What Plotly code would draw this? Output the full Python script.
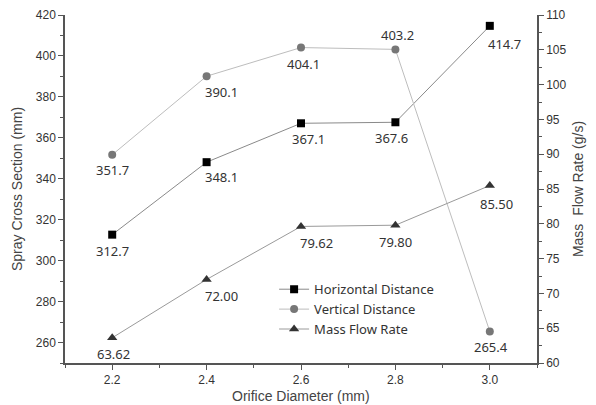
import plotly.graph_objects as go

diameter = [2.2, 2.4, 2.6, 2.8, 3.0]
horizontal = [312.7, 348.1, 367.1, 367.6, 414.7]
vertical = [351.7, 390.1, 404.1, 403.2, 265.4]
mass_flow = [63.62, 72.00, 79.62, 79.80, 85.50]
horizontal_labels = ["312.7", "348.1", "367.1", "367.6", "414.7"]
vertical_labels = ["351.7", "390.1", "404.1", "403.2", "265.4"]
mass_labels = ["63.62", "72.00", "79.62", "79.80", "85.50"]

# label offsets in pixels (styling only)
h_off = [(0, -16), (15, -15), (7, -16), (-4, -16), (15, -18)]
v_off = [(0, -15), (15, -16), (2, -16), (2, 14), (1, -16)]
m_off = [(1, -16), (15, -17), (15, -17), (0, -17), (7, -18)]

label_font = dict(family="Noto Sans, DejaVu Sans", size=13, color="#333")
title_font = dict(family="Liberation Sans, Arial", size=14, color="#444")

fig = go.Figure()
fig.add_trace(go.Scatter(
    x=diameter, y=horizontal, name="Horizontal Distance", mode="lines+markers",
    line=dict(color="#8a8a8a", width=1), marker=dict(symbol="square", size=8, color="#000"),
))
fig.add_trace(go.Scatter(
    x=diameter, y=vertical, name="Vertical Distance", mode="lines+markers",
    line=dict(color="#bdbdbd", width=1), marker=dict(symbol="circle", size=8, color="#777"),
))
fig.add_trace(go.Scatter(
    x=diameter, y=mass_flow, name="Mass Flow Rate", mode="lines+markers", yaxis="y2",
    line=dict(color="#9a9a9a", width=1), marker=dict(symbol="triangle-up", size=9, color="#333"),
))

annotations = []
for vals, labels, offs, yref in [(horizontal, horizontal_labels, h_off, "y"),
                                 (vertical, vertical_labels, v_off, "y"),
                                 (mass_flow, mass_labels, m_off, "y2")]:
    for xv, yv, lab, (dx, dy) in zip(diameter, vals, labels, offs):
        annotations.append(dict(x=xv, y=yv, xref="x", yref=yref, text=lab, showarrow=False,
                                xshift=dx, yshift=dy, font=label_font,
                                xanchor="center", yanchor="middle"))

# x-axis title, placed just above the bottom edge
annotations.append(dict(x=0.5, y=-0.094, xref="paper", yref="paper", text="Orifice Diameter (mm)",
                        showarrow=False, font=title_font, xanchor="center", yanchor="middle"))

axis_common = dict(
    showline=True, linecolor="#555", linewidth=1.5, ticks="outside", ticklen=5,
    tickcolor="#555", showgrid=False, zeroline=False, automargin=False,
    tickfont=dict(family="Liberation Sans, Arial", size=12, color="#333"),
)

fig.update_layout(
    width=596, height=405,
    margin=dict(l=65, r=59, t=15, b=42),
    plot_bgcolor="white", paper_bgcolor="white",
    showlegend=True,
    annotations=annotations,
    legend=dict(x=0.443, y=0.255, xanchor="left", yanchor="top", bgcolor="rgba(0,0,0,0)",
                font=dict(family="Noto Sans, DejaVu Sans", size=13, color="#333"),
                tracegroupgap=0),
    xaxis=dict(range=[2.1, 3.1], tickvals=diameter, ticktext=["2.2", "2.4", "2.6", "2.8", "3.0"],
               minor=dict(ticks="outside", ticklen=3, dtick=0.1, tick0=2.1, tickcolor="#555"),
               **axis_common),
    yaxis=dict(range=[250, 420], tick0=260, dtick=20,
               minor=dict(ticks="outside", ticklen=3, dtick=10, tick0=250, tickcolor="#555"),
               title=dict(text="Spray Cross Section (mm)", standoff=10, font=title_font),
               **axis_common),
    yaxis2=dict(range=[60, 110], tick0=60, dtick=5, overlaying="y", side="right",
                minor=dict(ticks="outside", ticklen=3, dtick=2.5, tick0=60, tickcolor="#555"),
                title=dict(text="Mass  Flow Rate (g/s)", standoff=8, font=title_font),
                **axis_common),
)

fig.write_html("out.html")
